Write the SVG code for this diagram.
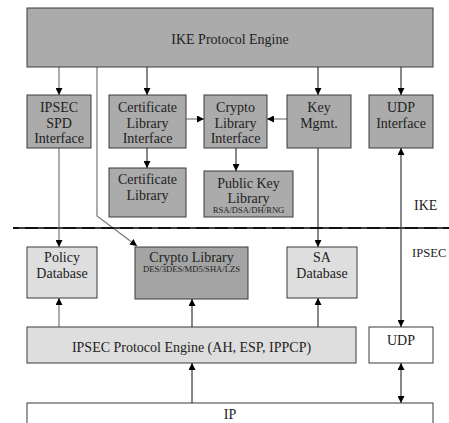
<svg xmlns="http://www.w3.org/2000/svg" width="449" height="423" viewBox="0 0 449 423">
<style>
text{font-family:"Liberation Serif","Times New Roman",serif;font-size:14px;fill:#222;text-anchor:middle}
.small{font-size:8.6px}
.lbl{text-anchor:start}
.box{fill:#ababab;stroke:#3a3a3a;stroke-width:1}
.dark{fill:#a4a4a4;stroke:#3a3a3a;stroke-width:1}
.light{fill:#dedede;stroke:#3a3a3a;stroke-width:1}
.white{fill:#ffffff;stroke:#3a3a3a;stroke-width:1}
.c{fill:none;stroke:#111;stroke-width:1}
.g{fill:none;stroke:#777;stroke-width:1.2}
</style>
<defs>
<marker id="ah" viewBox="0 0 10 10" refX="10" refY="5" markerWidth="7" markerHeight="7" markerUnits="userSpaceOnUse" orient="auto-start-reverse">
<path d="M0,0 L10,5 L0,10 z" fill="#000"/>
</marker>
</defs>
<g id="connectors">
<line class="g" x1="59" y1="67" x2="59" y2="95" marker-end="url(#ah)"/>
<line class="c" x1="147" y1="67" x2="147" y2="95" marker-end="url(#ah)"/>
<line class="c" x1="318" y1="67" x2="318" y2="95" marker-end="url(#ah)"/>
<line class="c" x1="401" y1="67" x2="401" y2="95" marker-end="url(#ah)"/>
<line class="g" x1="186" y1="119" x2="204" y2="119" marker-end="url(#ah)"/>
<line class="g" x1="287" y1="119" x2="267" y2="119" marker-end="url(#ah)"/>
<line class="c" x1="147" y1="148" x2="147" y2="168" marker-end="url(#ah)"/>
<line class="c" x1="236" y1="148" x2="236" y2="171" marker-end="url(#ah)"/>
<line class="g" x1="59" y1="148" x2="59" y2="247" marker-end="url(#ah)"/>
<line class="c" x1="318" y1="148" x2="318" y2="247" marker-end="url(#ah)"/>
<polyline class="g" points="97,67 97,216 137,246" marker-end="url(#ah)"/>
<line class="c" x1="401" y1="148" x2="401" y2="327" marker-start="url(#ah)" marker-end="url(#ah)"/>
<line class="g" x1="59" y1="327" x2="59" y2="298" marker-end="url(#ah)"/>
<line class="c" x1="192" y1="327" x2="192" y2="299" marker-end="url(#ah)"/>
<line class="c" x1="318" y1="327" x2="318" y2="298" marker-end="url(#ah)"/>
<line class="c" x1="192" y1="403" x2="192" y2="363" marker-end="url(#ah)"/>
<line class="c" x1="401" y1="363" x2="401" y2="403" marker-start="url(#ah)" marker-end="url(#ah)"/>
<line x1="13" y1="228" x2="449" y2="228" stroke="#111" stroke-width="2"/>
<line x1="13" y1="228" x2="449" y2="228" stroke="#888" stroke-width="0.8" stroke-dasharray="6,13" stroke-dashoffset="-6"/>
</g>
<g id="ike-engine"><rect class="box" x="27" y="8" width="406" height="59"/><text x="230" y="44">IKE Protocol Engine</text></g>
<g id="spd-interface"><rect class="box" x="27" y="95" width="64" height="53"/><text x="59" y="112">IPSEC</text><text x="59" y="128">SPD</text><text x="59" y="143">Interface</text></g>
<g id="cert-lib-interface"><rect class="box" x="109" y="95" width="77" height="53"/><text x="147.5" y="112">Certificate</text><text x="147.5" y="128">Library</text><text x="147.5" y="143">Interface</text></g>
<g id="crypto-lib-interface"><rect class="box" x="204" y="95" width="63" height="53"/><text x="235.5" y="112">Crypto</text><text x="235.5" y="128">Library</text><text x="235.5" y="143">Interface</text></g>
<g id="key-mgmt"><rect class="box" x="287" y="95" width="64" height="53"/><text x="319" y="112">Key</text><text x="319" y="128">Mgmt.</text></g>
<g id="udp-interface"><rect class="box" x="369" y="95" width="64" height="53"/><text x="401" y="112">UDP</text><text x="401" y="128">Interface</text></g>
<g id="cert-lib"><rect class="box" x="109" y="168" width="77" height="49"/><text x="147.5" y="184">Certificate</text><text x="147.5" y="200">Library</text></g>
<g id="pubkey-lib"><rect class="box" x="204" y="171" width="89" height="46"/><text x="248.5" y="188">Public Key</text><text x="248.5" y="203">Library</text><text class="small" x="248.5" y="213">RSA/DSA/DH/RNG</text></g>
<g id="policy-db"><rect class="light" x="27" y="247" width="70" height="51"/><text x="62" y="262">Policy</text><text x="62" y="278">Database</text></g>
<g id="crypto-lib"><rect class="dark" x="135" y="247" width="113" height="52"/><text x="191.5" y="262">Crypto Library</text><text class="small" x="191.5" y="272">DES/3DES/MD5/SHA/LZS</text></g>
<g id="sa-db"><rect class="light" x="287" y="247" width="70" height="51"/><text x="322" y="262">SA</text><text x="322" y="278">Database</text></g>
<g id="ipsec-engine"><rect class="light" x="27" y="327" width="329" height="36"/><text x="191.5" y="352">IPSEC Protocol Engine (AH, ESP, IPPCP)</text></g>
<g id="udp"><rect class="white" x="369" y="327" width="64" height="36"/><text x="401" y="345">UDP</text></g>
<g id="ip"><rect class="white" x="27" y="403" width="406" height="30"/><text x="230" y="419">IP</text></g>
<g id="labels"><text class="lbl" x="414" y="210">IKE</text><text class="lbl" x="412" y="257" style="font-size:12.6px">IPSEC</text></g>
</svg>
